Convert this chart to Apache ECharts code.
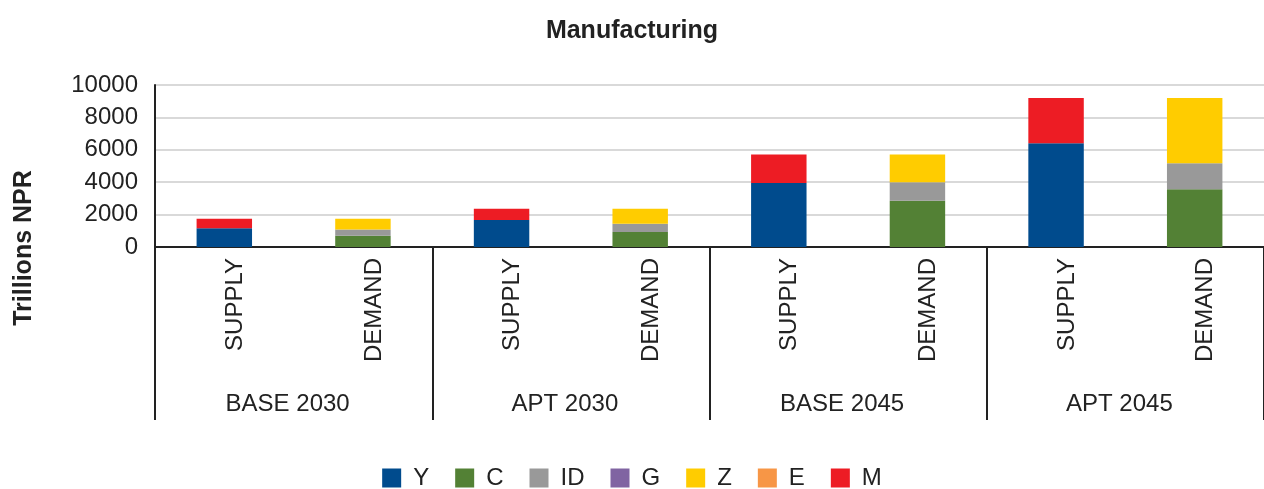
<!DOCTYPE html>
<html>
<head>
<meta charset="utf-8">
<script src="https://cdn.jsdelivr.net/npm/echarts@6/dist/echarts.min.js"></script>
<style>
  html, body { margin: 0; padding: 0; background: #fff; }
  #chart { width: 1264px; height: 489px; }
</style>
</head>
<body>
<div id="chart"></div>
<script>
// Bars within each scenario and the scenario groups beneath them
const categories = ['SUPPLY', 'DEMAND', 'SUPPLY', 'DEMAND', 'SUPPLY', 'DEMAND', 'SUPPLY', 'DEMAND'];
const groups = ['BASE 2030', 'APT 2030', 'BASE 2045', 'APT 2045'];
const yTicks = [0, 2000, 4000, 6000, 8000, 10000];

// Components, trillions NPR
const valuesY  = [1160, 0, 1660, 0, 3950, 0, 6400, 0];
const valuesC  = [0, 700, 0, 930, 0, 2860, 0, 3560];
const valuesID = [0, 375, 0, 500, 0, 1135, 0, 1615];
const valuesG  = [0, 0, 0, 0, 0, 0, 0, 0];
const valuesZ  = [0, 665, 0, 930, 0, 1715, 0, 4015];
const valuesE  = [0, 0, 0, 0, 0, 0, 0, 0];
const valuesM  = [580, 0, 700, 0, 1760, 0, 2790, 0];

const seriesDefs = [
  { name: 'Y',  data: valuesY,  color: '#004B8D' },
  { name: 'C',  data: valuesC,  color: '#538135' },
  { name: 'ID', data: valuesID, color: '#999999' },
  { name: 'G',  data: valuesG,  color: '#8064A2' },
  { name: 'Z',  data: valuesZ,  color: '#FFCC00' },
  { name: 'E',  data: valuesE,  color: '#F79646' },
  { name: 'M',  data: valuesM,  color: '#ED1C24' }
];

const font = 'Liberation Sans, Arial, Helvetica, sans-serif';
const chart = echarts.init(document.getElementById('chart'), null, { renderer: 'canvas' });

chart.setOption({
  animation: false,
  backgroundColor: '#ffffff',
  textStyle: { fontFamily: font },
  title: {
    text: 'Manufacturing',
    left: 'center',
    top: 14,
    textStyle: { fontFamily: font, fontSize: 25, fontWeight: 'bold', color: '#222' }
  },
  graphic: [{
    type: 'text',
    x: 24,
    y: 248,
    rotation: Math.PI / 2,
    style: {
      text: 'Trillions NPR',
      fill: '#222',
      font: 'bold 25px ' + font,
      textAlign: 'center',
      textVerticalAlign: 'middle'
    }
  }],
  legend: {
    top: 466,
    left: 'center',
    padding: 0,
    itemWidth: 19,
    itemHeight: 19,
    itemGap: 26,
    icon: 'rect',
    textStyle: { fontFamily: font, fontSize: 24, color: '#222', padding: [0, 0, 0, 7] },
    data: seriesDefs.map(s => s.name)
  },
  grid: { left: 155, top: 85, width: 1111, height: 162, containLabel: false },
  xAxis: [
    {
      type: 'category',
      data: categories,
      position: 'bottom',
      axisLine: { show: true, lineStyle: { color: '#222', width: 2 } },
      axisTick: { show: false },
      axisLabel: {
        rotate: 90, margin: 11, fontSize: 24, color: '#222', fontFamily: font,
        interval: 0, verticalAlign: 'top', lineHeight: 22
      },
      splitLine: { show: false }
    },
    {
      type: 'category',
      data: groups,
      position: 'bottom',
      axisLine: { show: false },
      axisTick: { show: true, length: 173, lineStyle: { color: '#222', width: 2 } },
      axisLabel: {
        margin: 145, fontSize: 24, color: '#222', fontFamily: font,
        interval: 0, padding: [0, 12, 0, 0]
      },
      splitLine: { show: false }
    }
  ],
  yAxis: {
    type: 'value',
    min: yTicks[0],
    max: yTicks[yTicks.length - 1],
    interval: 2000,
    axisLine: { show: true, lineStyle: { color: '#222', width: 2 } },
    axisTick: { show: false },
    axisLabel: { fontSize: 24, color: '#222', margin: 17, fontFamily: font, formatter: v => String(v) },
    splitLine: { show: true, lineStyle: { color: '#d9d9d9', width: 2 } }
  },
  series: seriesDefs.map(s => ({
    name: s.name,
    type: 'bar',
    stack: 'total',
    xAxisIndex: 0,
    barWidth: '40%',
    data: s.data,
    itemStyle: { color: s.color },
    emphasis: { disabled: true }
  }))
});
</script>
</body>
</html>
